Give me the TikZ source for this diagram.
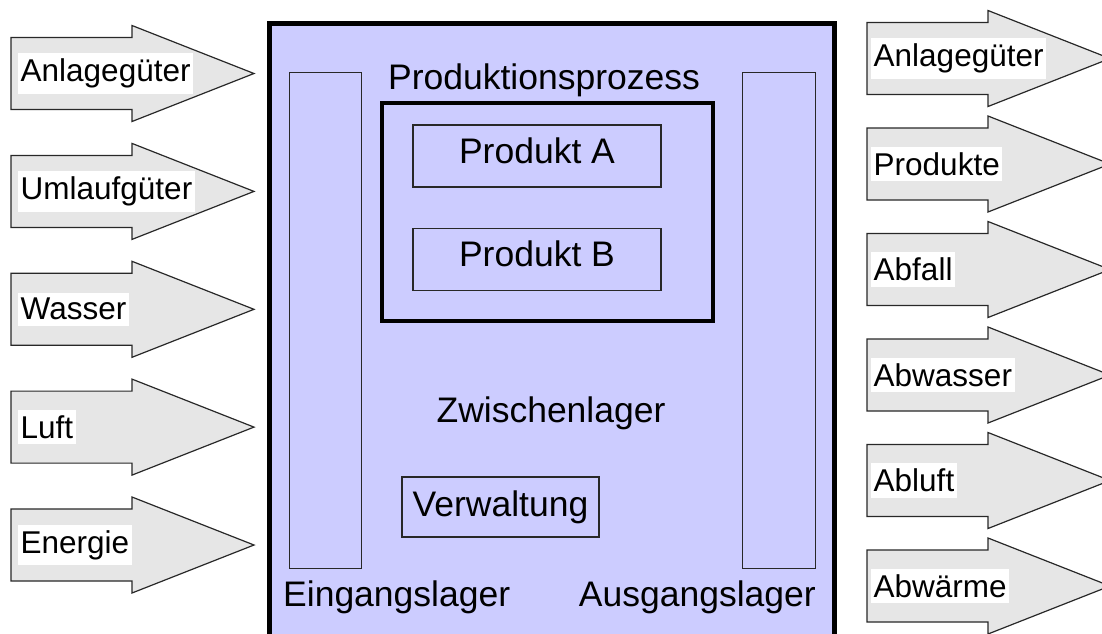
\documentclass[tikz,border=0pt]{standalone}
\usepackage{fontspec}
\setmainfont{Liberation Sans}
\definecolor{lagerblau}{RGB}{204,204,255}
\definecolor{pfeilgrau}{RGB}{230,230,230}
\definecolor{randgrau}{RGB}{40,40,40}
\tikzset{
  arrowline/.style={draw=randgrau, line width=1.2, fill=pfeilgrau, line join=miter},
  arrowlabel/.style={fill=white, anchor=west, inner xsep=2.5, inner ysep=5.5, font=\fontsize{31.5}{36}\selectfont},
  boxtext/.style={inner sep=0, font=\fontsize{35.5}{40}\selectfont},
  thinbox/.style={draw=randgrau, line width=1.2},
  flowarrow/.pic={\path[arrowline] (0,-36) -- (121,-36) -- (121,-48) -- (243,0) -- (121,48) -- (121,36) -- (0,36) -- cycle;}
}
\begin{document}
\begin{tikzpicture}[x=1pt,y=-1pt]
	\useasboundingbox (0,0) rectangle (1102,633);
	\clip (0,0) rectangle (1102,633);
	
	% Eingaenge
	\pic (inA) at (11,73.5) {flowarrow};
	\pic (inB) at (11,191.4) {flowarrow};
	\pic (inC) at (11,309.3) {flowarrow};
	\pic (inD) at (11,427.1) {flowarrow};
	\pic (inE) at (11,545) {flowarrow};
	\node[arrowlabel] (anlageIn) at (18,73.5) {Anlagegüter};
	\node[arrowlabel] (umlauf) at (18,191.4) {Umlaufgüter};
	\node[arrowlabel] (wasser) at (18,309.3) {Wasser};
	\node[arrowlabel] (luft) at (18,427.1) {Luft};
	\node[arrowlabel] (energie) at (18,545) {Energie};
	
	% Betrieb
	\draw[line width=5, fill=lagerblau] (269.5,23.5) rectangle (834.5,660);
	\draw[thinbox] (289.5,72.5) rectangle (361.5,568.5);
	\draw[thinbox] (742.5,72.5) rectangle (815.5,568.5);
	\draw[line width=4] (382,103) rectangle (713,321);
	\node[boxtext, anchor=base] (prozess) at (544,89) {Produktionsprozess};
	\node[boxtext, thinbox, minimum width=248, minimum height=62, text depth=11] (produktA) at (537,156) {Produkt A};
	\node[boxtext, thinbox, minimum width=248, minimum height=62, text depth=11] (produktB) at (537,259.5) {Produkt B};
	\node[boxtext, anchor=base] (zwischen) at (551,422) {Zwischenlager};
	\node[boxtext, thinbox, minimum width=197, minimum height=60] (verwaltung) at (500.5,507) {Verwaltung};
	\node[boxtext, anchor=base west] (eingang) at (283,606) {Eingangslager};
	\node[boxtext, anchor=base east] (ausgang) at (816,606) {Ausgangslager};
	
	% Ausgaenge
	\pic (outA) at (867,58.5) {flowarrow};
	\pic (outB) at (867,164) {flowarrow};
	\pic (outC) at (867,269.5) {flowarrow};
	\pic (outD) at (867,375) {flowarrow};
	\pic (outE) at (867,480.5) {flowarrow};
	\pic (outF) at (867,586) {flowarrow};
	\node[arrowlabel] (anlageOut) at (871,58.5) {Anlagegüter};
	\node[arrowlabel] (produkte) at (871,164) {Produkte};
	\node[arrowlabel] (abfall) at (871,269.5) {Abfall};
	\node[arrowlabel] (abwasser) at (871,375) {Abwasser};
	\node[arrowlabel] (abluft) at (871,480.5) {Abluft};
	\node[arrowlabel] (abwaerme) at (871,586) {Abwärme};
\end{tikzpicture}
\end{document}
